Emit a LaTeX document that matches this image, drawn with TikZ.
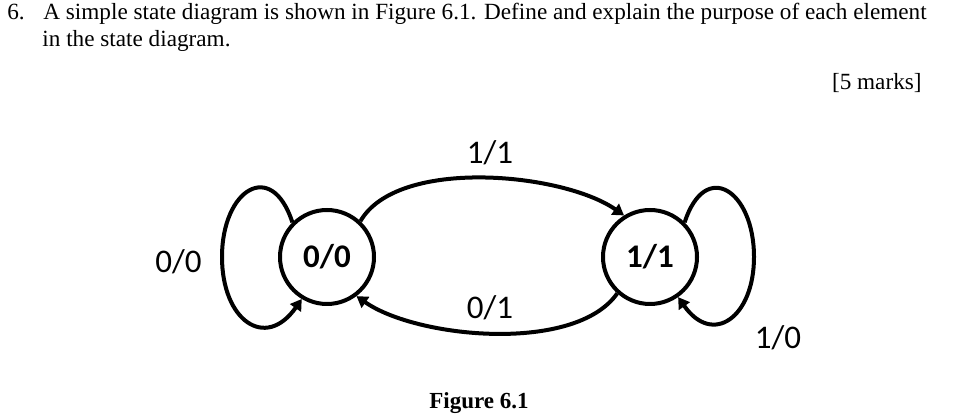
\documentclass[tikz,border=0pt]{standalone}
\usepackage{fontspec}
\usepackage{tikz}
\usetikzlibrary{arrows.meta, positioning, calc}
\setmainfont{Liberation Serif}
\newfontfamily\labelfont{Carlito}
\definecolor{ink}{HTML}{000000}
\tikzset{
  state/.style={
    circle, draw=ink, line width=2pt,
    minimum size=47pt, inner sep=0pt,
    font=\labelfont\fontsize{16.5}{18}\selectfont\bfseries,
  },
  arrow/.style={-{Triangle[length=5.5pt,width=6.5pt]}, line width=2pt, color=ink},
  trans/.style={font=\labelfont\fontsize{16.5}{18}\selectfont},
  question/.style={anchor=base west, inner sep=0pt, font=\fontsize{11.6}{14}\selectfont},
}

\begin{document}
\begin{tikzpicture}[x=0.5pt,y=0.5pt]
  \useasboundingbox (0,0) rectangle (979,417);
  % question text
  \node[question] (qnum) at (7,397) {6.};
  \node[question] (qline1) at (43,397) {A simple state diagram is shown in Figure 6.1. Define and explain the purpose of each element};
  \node[question] (qline2) at (42,370) {in the state diagram.};
  \node[question,anchor=base east] (marks) at (922,327) {[5 marks]};
  % states
  \node[state] (s00) at (327,160) {0/0};
  \node[state] (s11) at (650,160) {1/1};
  \coordinate (loop00) at (222,160);
  \coordinate (loop11) at (754,160);
  % transitions
  \draw[arrow] (s00.47) to[out=60,in=145,looseness=0.72] (s11.122);
  \draw[arrow] (s11.228) to[out=235,in=-35,looseness=0.72] (s00.-53);
  \draw[arrow] (s00.135) to[out=108,in=90,looseness=2.2] (loop00)
    to[out=270,in=235,looseness=1.8] (s00.239);
  \draw[arrow] (s11.45) to[out=72,in=90,looseness=2.2] (loop11)
    to[out=270,in=305,looseness=1.8] (s11.305);
  % transition labels
  \node[trans] (t11) at (490,264) {1/1};
  \node[trans] (t01) at (490,109) {0/1};
  \node[trans] (t00) at (178.5,155.5) {0/0};
  \node[trans] (t10) at (778,79.5) {1/0};
  % caption
  \node[anchor=base,inner sep=0pt,font=\fontsize{11.5}{14}\selectfont\bfseries] (caption) at (479,8) {Figure 6.1};
\end{tikzpicture}
\end{document}
